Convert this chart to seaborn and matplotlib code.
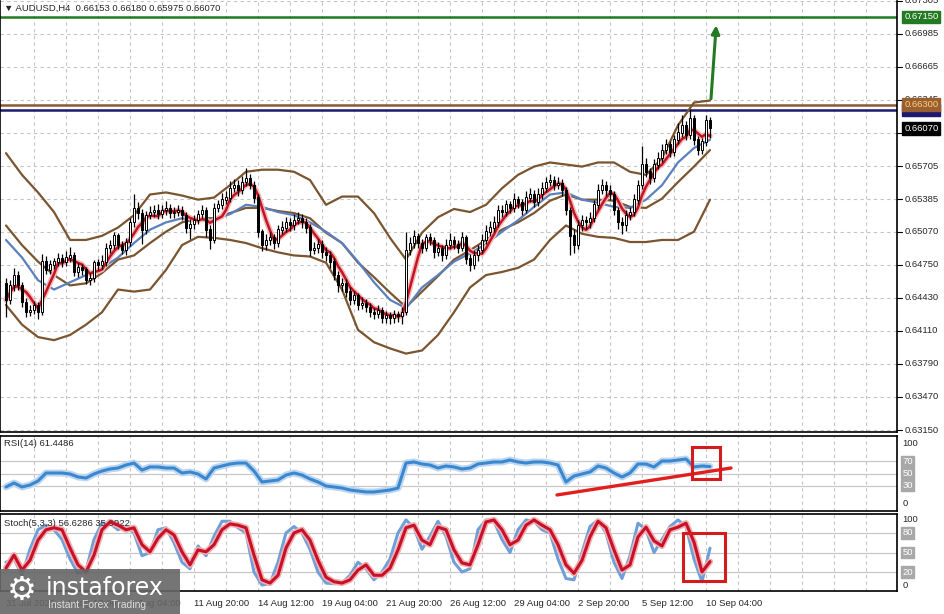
import numpy as np
import pandas as pd
import matplotlib.pyplot as plt
from matplotlib.patches import Rectangle
import seaborn as sns

# -----------------------------
# DATA: AUDUSD H4 bars
# -----------------------------
first_open = 0.6457
closes = [
    0.6441, 0.6455, 0.6465, 0.6455, 0.6439, 0.6429, 0.6431, 0.6436, 0.6429, 0.6478,
    0.6470, 0.6475, 0.6478, 0.6481, 0.6478, 0.6482, 0.6484, 0.6468, 0.6472, 0.6470,
    0.6460, 0.6462, 0.6477, 0.6475, 0.6478, 0.6491, 0.6494, 0.6503, 0.6494, 0.6489,
    0.6497, 0.6516, 0.6530, 0.6525, 0.6509, 0.6523, 0.6526, 0.6528, 0.6524, 0.6528,
    0.6530, 0.6525, 0.6526, 0.6528, 0.6523, 0.6511, 0.6514, 0.6518, 0.6524, 0.6528,
    0.6509, 0.6499, 0.6530, 0.6533, 0.6538, 0.6540, 0.6549, 0.6552, 0.6547, 0.6555,
    0.6559, 0.6552, 0.6540, 0.6507, 0.6494, 0.6499, 0.6501, 0.6496, 0.6509, 0.6511,
    0.6516, 0.6513, 0.6518, 0.6520, 0.6516, 0.6511, 0.6489, 0.6491, 0.6495, 0.6487,
    0.6484, 0.6478, 0.6465, 0.6455, 0.6457, 0.6449, 0.6441, 0.6445, 0.6436, 0.6438,
    0.6434, 0.6429, 0.6427, 0.6431, 0.6423, 0.6426, 0.6423, 0.6427, 0.6425, 0.6429,
    0.6489, 0.6496, 0.6502, 0.6496, 0.6491, 0.6501, 0.6499, 0.6487, 0.6491, 0.6484,
    0.6494, 0.6499, 0.6495, 0.6491, 0.6501, 0.6481, 0.6475, 0.6484, 0.6489, 0.6499,
    0.6507, 0.6511, 0.6516, 0.6528, 0.6526, 0.6533, 0.6530, 0.6538, 0.6535, 0.6528,
    0.6540, 0.6543, 0.6536, 0.6543, 0.6549, 0.6555, 0.6557, 0.6552, 0.6554, 0.6547,
    0.6528, 0.6503, 0.6494, 0.6513, 0.6518, 0.6516, 0.6520, 0.6533, 0.6547, 0.6552,
    0.6547, 0.6543, 0.6528, 0.6516, 0.6513, 0.6523, 0.6526, 0.6538, 0.6552, 0.6572,
    0.6565, 0.6559, 0.6572, 0.6578, 0.6586, 0.6591, 0.6584, 0.6596, 0.6603, 0.6610,
    0.6601, 0.6617, 0.6596, 0.6586, 0.6594, 0.6615, 0.6607,
]
highs = [
    0.6462, 0.6460, 0.6472, 0.6469, 0.6458, 0.6443, 0.6436, 0.6440, 0.6439, 0.6485,
    0.6483, 0.6480, 0.6482, 0.6486, 0.6485, 0.6488, 0.6492, 0.6487, 0.6477, 0.6476,
    0.6473, 0.6467, 0.6480, 0.6481, 0.6484, 0.6496, 0.6499, 0.6507, 0.6506, 0.6498,
    0.6501, 0.6520, 0.6543, 0.6536, 0.6529, 0.6527, 0.6532, 0.6533, 0.6534, 0.6533,
    0.6537, 0.6534, 0.6531, 0.6533, 0.6532, 0.6526, 0.6519, 0.6523, 0.6528, 0.6533,
    0.6531, 0.6513, 0.6535, 0.6538, 0.6544, 0.6546, 0.6556, 0.6558, 0.6557, 0.6561,
    0.6569, 0.6563, 0.6556, 0.6543, 0.6510, 0.6505, 0.6507, 0.6505, 0.6513, 0.6517,
    0.6521, 0.6520, 0.6524, 0.6526, 0.6524, 0.6520, 0.6514, 0.6497, 0.6500, 0.6499,
    0.6492, 0.6488, 0.6482, 0.6469, 0.6462, 0.6461, 0.6453, 0.6450, 0.6448, 0.6444,
    0.6442, 0.6438, 0.6433, 0.6436, 0.6434, 0.6430, 0.6429, 0.6431, 0.6430, 0.6434,
    0.6507, 0.6502, 0.6509, 0.6506, 0.6500, 0.6505, 0.6506, 0.6502, 0.6497, 0.6494,
    0.6500, 0.6506, 0.6503, 0.6499, 0.6507, 0.6504, 0.6485, 0.6489, 0.6494, 0.6505,
    0.6513, 0.6517, 0.6522, 0.6533, 0.6533, 0.6538, 0.6537, 0.6544, 0.6542, 0.6539,
    0.6546, 0.6549, 0.6547, 0.6549, 0.6555, 0.6560, 0.6563, 0.6561, 0.6560, 0.6558,
    0.6550, 0.6531, 0.6510, 0.6518, 0.6523, 0.6522, 0.6526, 0.6538, 0.6553, 0.6558,
    0.6556, 0.6552, 0.6546, 0.6531, 0.6521, 0.6528, 0.6531, 0.6543, 0.6557, 0.6590,
    0.6578, 0.6569, 0.6577, 0.6584, 0.6592, 0.6597, 0.6595, 0.6601, 0.6612, 0.6620,
    0.6614, 0.6626, 0.6620, 0.6600, 0.6598, 0.6620, 0.6618,
]
lows = [
    0.6424, 0.6437, 0.6450, 0.6451, 0.6434, 0.6424, 0.6425, 0.6427, 0.6422, 0.6426,
    0.6466, 0.6466, 0.6471, 0.6474, 0.6473, 0.6474, 0.6478, 0.6464, 0.6463, 0.6465,
    0.6456, 0.6455, 0.6458, 0.6470, 0.6471, 0.6474, 0.6486, 0.6490, 0.6490, 0.6485,
    0.6484, 0.6493, 0.6512, 0.6519, 0.6495, 0.6505, 0.6519, 0.6521, 0.6519, 0.6520,
    0.6523, 0.6520, 0.6520, 0.6522, 0.6518, 0.6506, 0.6500, 0.6510, 0.6514, 0.6520,
    0.6502, 0.6490, 0.6496, 0.6526, 0.6529, 0.6534, 0.6536, 0.6545, 0.6542, 0.6543,
    0.6551, 0.6548, 0.6535, 0.6502, 0.6488, 0.6489, 0.6494, 0.6490, 0.6492, 0.6505,
    0.6507, 0.6508, 0.6509, 0.6514, 0.6511, 0.6506, 0.6483, 0.6485, 0.6486, 0.6482,
    0.6479, 0.6472, 0.6460, 0.6449, 0.6450, 0.6444, 0.6436, 0.6437, 0.6431, 0.6432,
    0.6429, 0.6424, 0.6422, 0.6423, 0.6419, 0.6419, 0.6418, 0.6419, 0.6420, 0.6418,
    0.6426, 0.6484, 0.6491, 0.6491, 0.6486, 0.6488, 0.6494, 0.6482, 0.6483, 0.6479,
    0.6481, 0.6490, 0.6490, 0.6486, 0.6488, 0.6476, 0.6469, 0.6471, 0.6479, 0.6486,
    0.6495, 0.6503, 0.6507, 0.6512, 0.6521, 0.6522, 0.6525, 0.6526, 0.6530, 0.6523,
    0.6525, 0.6536, 0.6531, 0.6532, 0.6539, 0.6545, 0.6551, 0.6547, 0.6548, 0.6542,
    0.6523, 0.6484, 0.6486, 0.6490, 0.6508, 0.6510, 0.6511, 0.6516, 0.6529, 0.6543,
    0.6542, 0.6538, 0.6523, 0.6510, 0.6505, 0.6508, 0.6518, 0.6522, 0.6534, 0.6548,
    0.6560, 0.6553, 0.6555, 0.6568, 0.6574, 0.6582, 0.6579, 0.6580, 0.6592, 0.6599,
    0.6596, 0.6597, 0.6591, 0.6581, 0.6582, 0.6590, 0.6598,
]

# bollinger bands / blue MA, sampled every 4 bars
ind_bars = list(range(0, 177, 4))
bb_upper = [0.6583, 0.6562, 0.6545, 0.6526, 0.6499, 0.6499, 0.6503, 0.6511, 0.6523, 0.6543,
            0.6545, 0.6542, 0.6538, 0.6540, 0.6552, 0.6565, 0.6567, 0.6567, 0.6565, 0.6557,
            0.6533, 0.6541, 0.6541, 0.6525, 0.6501, 0.6480, 0.6506, 0.6521, 0.6529, 0.6526,
            0.6533, 0.6549, 0.6562, 0.6570, 0.6574, 0.6572, 0.6570, 0.6574, 0.6574, 0.6565,
            0.6562, 0.6578, 0.6610, 0.6632, 0.6634]
bb_middle = [0.6513, 0.6494, 0.6478, 0.6465, 0.6455, 0.6457, 0.6467, 0.6480, 0.6484, 0.6496,
             0.6507, 0.6516, 0.6520, 0.6520, 0.6525, 0.6530, 0.6530, 0.6527, 0.6525, 0.6520,
             0.6506, 0.6496, 0.6477, 0.6463, 0.6448, 0.6434, 0.6449, 0.6464, 0.6480, 0.6489,
             0.6499, 0.6509, 0.6516, 0.6525, 0.6537, 0.6543, 0.6538, 0.6538, 0.6537, 0.6531,
             0.6530, 0.6539, 0.6555, 0.6570, 0.6586]
bb_lower = [0.6436, 0.6417, 0.6405, 0.6402, 0.6407, 0.6417, 0.6429, 0.6451, 0.6449, 0.6451,
            0.6470, 0.6494, 0.6502, 0.6501, 0.6499, 0.6496, 0.6491, 0.6487, 0.6484, 0.6483,
            0.6477, 0.6451, 0.6412, 0.6400, 0.6394, 0.6389, 0.6392, 0.6407, 0.6429, 0.6453,
            0.6465, 0.6468, 0.6472, 0.6480, 0.6499, 0.6513, 0.6505, 0.6502, 0.6501, 0.6497,
            0.6497, 0.6499, 0.6499, 0.6507, 0.6538]
ma_blue = [0.6499, 0.6482, 0.6460, 0.6451, 0.6458, 0.6465, 0.6472, 0.6482, 0.6496, 0.6509,
           0.6516, 0.6520, 0.6518, 0.6519, 0.6524, 0.6533, 0.6531, 0.6526, 0.6523, 0.6516,
           0.6507, 0.6496, 0.6478, 0.6458, 0.6441, 0.6433, 0.6453, 0.6465, 0.6478, 0.6486,
           0.6495, 0.6507, 0.6518, 0.6531, 0.6543, 0.6545, 0.6538, 0.6535, 0.6531, 0.6530,
           0.6538, 0.6552, 0.6574, 0.6588, 0.6596]

# oscillators, sampled every 2 bars
osc_bars = list(range(0, 177, 2))
rsi_vals = [27.9, 34.4, 27.9, 31.1, 37.7, 50.8, 50.8, 50.8, 49.2, 44.3,
            42.6, 49.2, 54.1, 57.4, 59.0, 63.9, 67.2, 55.7, 60.7, 60.7,
            59.0, 59.0, 50.8, 52.5, 49.2, 41.0, 59.0, 62.3, 65.6, 67.2,
            67.2, 54.1, 36.1, 37.7, 39.3, 47.5, 50.8, 47.5, 41.0, 36.1,
            29.5, 27.9, 26.2, 23.0, 21.3, 19.7, 19.7, 21.3, 23.0, 26.2,
            67.2, 68.9, 65.6, 63.9, 59.0, 62.3, 60.7, 57.4, 59.0, 65.6,
            67.2, 68.9, 68.9, 72.1, 68.9, 67.2, 68.9, 68.9, 67.2, 63.9,
            36.1, 45.9, 49.2, 52.5, 62.3, 59.0, 50.8, 44.3, 50.8, 65.6,
            65.6, 60.7, 70.5, 70.5, 72.1, 73.8, 60.7, 62.3, 61.45]
stoch_k = [35, 40, 15, 55, 85, 92, 85, 70, 40, 18,
           22, 70, 95, 95, 85, 90, 80, 45, 50, 85,
           88, 65, 35, 25, 60, 45, 75, 98, 98, 88,
           80, 20, 0, 2, 35, 80, 90, 80, 55, 20,
           3, 2, 3, 15, 35, 25, 8, 20, 40, 80,
           100, 88, 55, 75, 98, 75, 35, 20, 25, 85,
           100, 98, 70, 50, 85, 100, 98, 85, 80, 40,
           10, 8, 50, 90, 100, 80, 35, 10, 45, 95,
           85, 50, 70, 90, 100, 90, 40, 5, 56.6]
stoch_d = [26, 46, 23, 38, 69, 85, 88, 85, 57, 31,
           20, 46, 85, 97, 92, 85, 88, 62, 51, 72,
           85, 77, 51, 31, 54, 51, 62, 85, 94, 92,
           88, 46, 8, 3, 15, 57, 80, 85, 69, 38,
           12, 5, 3, 8, 23, 31, 15, 15, 26, 54,
           88, 92, 69, 62, 89, 85, 54, 34, 31, 62,
           97, 100, 85, 62, 69, 92, 100, 92, 85, 62,
           31, 18, 38, 74, 98, 88, 54, 23, 31, 74,
           89, 68, 60, 85, 89, 95, 66, 20, 36]

# time axis labels
tick_bars = [0, 15, 31, 47, 63, 79, 95, 111, 127, 143, 159, 175]
tick_labels = ["31 Jul 2025", "4 Aug 12:00", "7 Aug 04:00", "11 Aug 20:00", "14 Aug 12:00",
               "19 Aug 04:00", "21 Aug 20:00", "26 Aug 12:00", "29 Aug 04:00",
               "2 Sep 20:00", "5 Sep 12:00", "10 Sep 04:00"]
price_ticks = [0.63150, 0.63470, 0.63790, 0.64110, 0.64430, 0.64750, 0.65070,
               0.65385, 0.65705, 0.66025, 0.66345, 0.66665, 0.66985, 0.67305]

# levels drawn on the chart
level_green = 0.67150
level_brown = 0.66300
level_navy = 0.66250
last_price = 0.66070

# -----------------------------
# FIGURE LAYOUT
# -----------------------------
sns.set_style("white")
plt.rcParams['font.family'] = ['Liberation Sans', 'DejaVu Sans']

W, H = 944, 614
fig = plt.figure(figsize=(W / 100, H / 100), dpi=100)


def box(top, bottom, left=0, right=897):
    return [left / W, 1 - bottom / H, (right - left) / W, (bottom - top) / H]


ax = fig.add_axes(box(1, 432))
ax_rsi = fig.add_axes(box(436, 511))
ax_sto = fig.add_axes(box(514, 591))

n = len(closes)
bars = np.arange(n)
opens = np.array([first_open] + closes[:-1])
c = np.array(closes)
hi = np.maximum(np.array(highs), np.maximum(opens, c))
lo = np.minimum(np.array(lows), np.minimum(opens, c))

XMIN, XMAX = -1.5, 222.75
GRID = dict(color="#c4c4c4", lw=0.8, ls=(0, (3, 3)), zorder=0)
FS = 6.8

for a in (ax, ax_rsi, ax_sto):
    a.set_xlim(XMIN, XMAX)
    for gx in range(7, 223, 8):
        a.axvline(gx, **GRID)
    for s in a.spines.values():
        s.set_color("black")
        s.set_linewidth(1.2)
    a.set_xticks([])
    a.set_yticks([])


def line(a, x, y, color, lw, z=3):
    sns.lineplot(x=x, y=y, ax=a, color=color, lw=lw, estimator=None, sort=False,
                 legend=False, zorder=z)


# -----------------------------
# MAIN PRICE PANEL
# -----------------------------
ax.set_ylim(0.63131, 0.67303)
ax.spines["top"].set_visible(False)
for p in price_ticks:
    ax.axhline(p, **GRID)

# bollinger bands + moving averages
for band in (bb_upper, bb_middle, bb_lower):
    line(ax, ind_bars, band, "#7a5530", 1.6)
line(ax, ind_bars, ma_blue, "#5b80bd", 1.6)
ma_red = pd.Series(closes).rolling(5, min_periods=1).mean()
line(ax, bars, ma_red, "#f2b8b8", 4)
line(ax, bars, ma_red, "#c41424", 1.8)

# candles
up = c >= opens
ax.vlines(bars, lo, hi, color="black", lw=0.9, zorder=4)
ax.bar(bars, np.abs(c - opens) + 0.00004, bottom=np.minimum(opens, c), width=0.7,
       color=np.where(up, "white", "black"), edgecolor="black", lw=0.7, zorder=5)

# horizontal levels
ax.axhline(level_green, color="#237a23", lw=1.8, zorder=2)
ax.axhline(level_brown, color="#8a5a32", lw=1.8, zorder=2)
ax.axhline(level_navy, color="#1c1a6e", lw=1.8, zorder=2)

# target arrow
ax.annotate("", xy=(177.6, 0.67095), xytext=(176.2, 0.66330),
            arrowprops=dict(arrowstyle="-|>", color="#237a23", lw=2.2, mutation_scale=12),
            zorder=6)

# right price scale
ytr = ax.get_yaxis_transform()
for p in price_ticks:
    ax.plot([1.0, 1.006], [p, p], transform=ytr, color="black", lw=0.8, clip_on=False)
    ax.text(1.008, p, f"{p:.5f}", transform=ytr, fontsize=FS,
            va="center", ha="left", clip_on=False)


def price_box(p, bg, fg):
    ax.text(1.008, p, f"{p:.5f}", transform=ytr, fontsize=FS, color=fg,
            va="center", ha="left", clip_on=False, zorder=10,
            bbox=dict(boxstyle="square,pad=0.18", fc=bg, ec=bg))


price_box(level_green, "#237a23", "white")
price_box(level_navy, "#1c1a6e", "white")
price_box(level_brown, "#9a5f30", "#ffcf80")
price_box(last_price, "black", "white")

fig.text(4 / W, 1 - 8 / H, "\u25BC AUDUSD,H4  0.66153 0.66180 0.65975 0.66070",
         fontsize=FS, va="center", ha="left")

# -----------------------------
# RSI PANEL
# -----------------------------
ax_rsi.set_ylim(-11.5, 111.5)
for lv in (30, 50, 70):
    ax_rsi.axhline(lv, color="#c8c8c8", lw=0.9, zorder=1)
line(ax_rsi, osc_bars, rsi_vals, "#bcd6f0", 5)
line(ax_rsi, osc_bars, rsi_vals, "#3a87d0", 2.2)
ax_rsi.plot([137.75, 181.25], [14.8, 59.0], color="#e21f1f", lw=2.4, zorder=5,
            clip_on=False)
ax_rsi.add_patch(Rectangle((171.5, 41), 7.0, 52.4, fill=False, ec="#d41c1c", lw=2.2,
                           zorder=6))
ax_rsi.text(4 / 897, 0.9, "RSI(14) 61.4486", transform=ax_rsi.transAxes, fontsize=FS,
            va="center", ha="left")

# -----------------------------
# STOCHASTIC PANEL
# -----------------------------
ax_sto.set_ylim(-9.2, 109.2)
for lv in (20, 50, 80):
    ax_sto.axhline(lv, color="#c8c8c8", lw=0.9, zorder=1)
line(ax_sto, osc_bars, stoch_k, "#6f9fd8", 2.2)
line(ax_sto, osc_bars, stoch_d, "#f0b0b0", 4.5)
line(ax_sto, osc_bars, stoch_d, "#c8102a", 2.2, z=4)
ax_sto.add_patch(Rectangle((169.25, 6.2), 10.5, 73.8, fill=False, ec="#d41c1c", lw=2.2,
                           zorder=6))
ax_sto.text(4 / 897, 0.88, "Stoch(5,3,3) 56.6286 35.9922", transform=ax_sto.transAxes,
            fontsize=FS, va="center", ha="left")

# oscillator scales
for a, levels in ((ax_rsi, (100, 70, 50, 30, 0)), (ax_sto, (100, 80, 50, 20, 0))):
    tr = a.get_yaxis_transform()
    for lv in levels:
        if lv in (0, 100):
            a.text(1.006, lv, str(lv), transform=tr, fontsize=FS, va="center",
                   ha="left", clip_on=False)
        else:
            a.text(1.006, lv, str(lv), transform=tr, fontsize=FS, va="center",
                   ha="left", color="white", clip_on=False,
                   bbox=dict(boxstyle="square,pad=0.12", fc="#a8a8a8", ec="#a8a8a8"))

# time axis
ax_sto.set_xticks(tick_bars)
ax_sto.set_xticklabels(tick_labels, fontsize=FS, ha="left")
ax_sto.tick_params(axis="x", direction="out", length=4, width=0.8, pad=2)

# -----------------------------
# WATERMARK
# -----------------------------
fig.patches.append(Rectangle((0, 0), 180 / W, 45 / H, transform=fig.transFigure,
                             fc="#666666", ec="none", alpha=0.9, zorder=20))
fig.text(22 / W, 1 - 590 / H, "\u2699", fontsize=24, color="white", ha="center",
         va="center", family="DejaVu Sans", zorder=21)
fig.text(46 / W, 1 - 588 / H, "instaforex", fontsize=17, color="white", ha="left",
         va="center", family="DejaVu Sans", zorder=21)
fig.text(48 / W, 1 - 605 / H, "Instant Forex Trading", fontsize=7.5, color="#dddddd",
         ha="left", va="center", zorder=21)

fig.savefig("out.png", dpi=100)
